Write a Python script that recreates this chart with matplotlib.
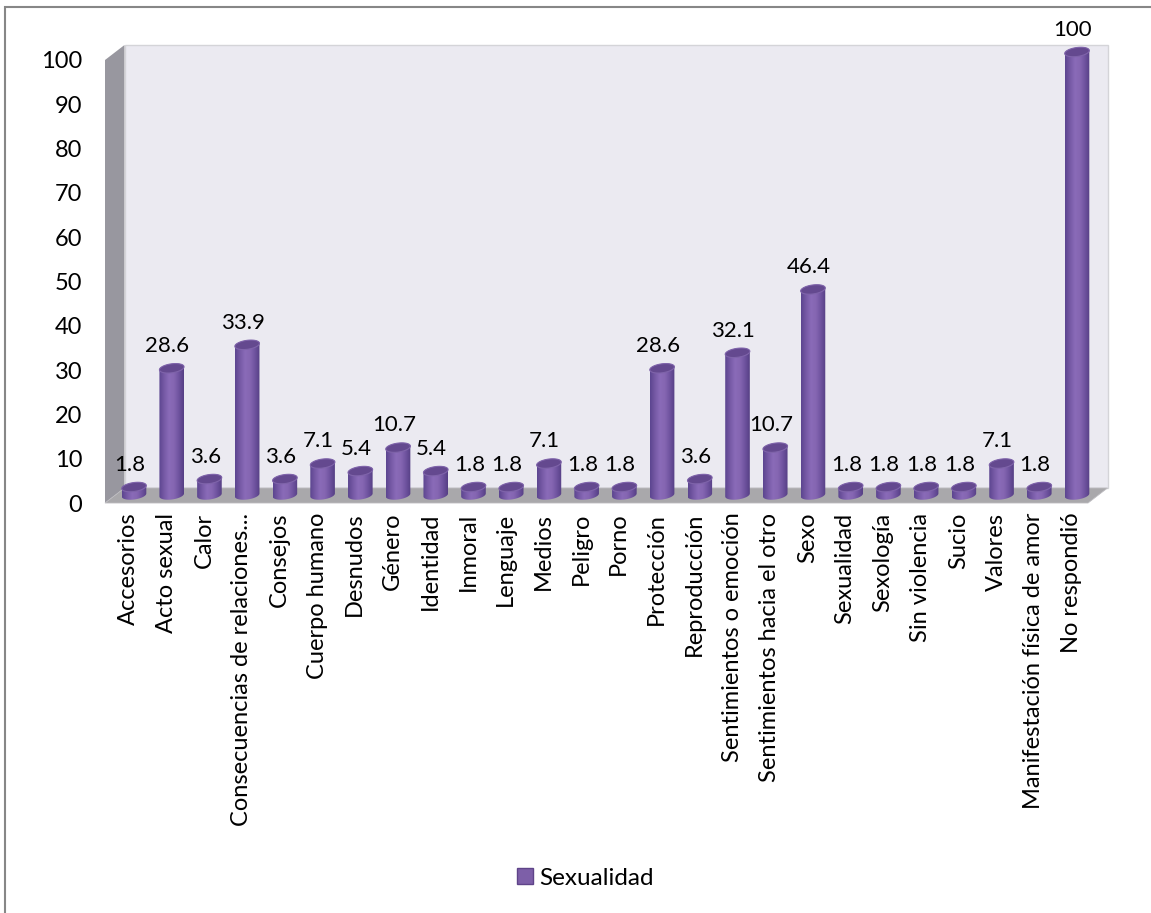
import matplotlib
matplotlib.use('Agg')
import matplotlib.pyplot as plt
import numpy as np
from matplotlib.colors import LinearSegmentedColormap
from matplotlib.lines import Line2D
from matplotlib.patches import Patch, Polygon, Rectangle
from matplotlib.transforms import ScaledTranslation

categorias = ['Accesorios', 'Acto sexual', 'Calor', 'Consecuencias de relaciones...', 'Consejos',
              'Cuerpo humano', 'Desnudos', 'Género', 'Identidad', 'Inmoral', 'Lenguaje', 'Medios',
              'Peligro', 'Porno', 'Protección', 'Reproducción', 'Sentimientos o emoción',
              'Sentimientos hacia el otro', 'Sexo', 'Sexualidad', 'Sexología', 'Sin violencia',
              'Sucio', 'Valores', 'Manifestación física de amor', 'No respondió']
valores = [1.8, 28.6, 3.6, 33.9, 3.6, 7.1, 5.4, 10.7, 5.4, 1.8, 1.8, 7.1, 1.8, 1.8, 28.6, 3.6,
           32.1, 10.7, 46.4, 1.8, 1.8, 1.8, 1.8, 7.1, 1.8, 100]
ticks_y = list(range(0, 101, 10))

W, H = 1151, 913
PX_X0, PX_DX = 134, 37.72   # centro de la primera barra y paso entre categorias
PX_Y0, PX_Y100 = 503, 60
ESCALA = (PX_Y0 - PX_Y100) / 100

plt.rcParams['font.family'] = ['Lato', 'DejaVu Sans']
fig = plt.figure(figsize=(W / 100, H / 100), dpi=100)
fig.patch.set_facecolor('white')
# el marco solo se ve arriba y a la izquierda
fig.add_artist(Line2D([5 / W, 5 / W, 1], [0, 1 - 7.5 / H, 1 - 7.5 / H], transform=fig.transFigure,
                      color='#878787', lw=1.5, solid_joinstyle='miter'))

ax = fig.add_axes([105 / W, 1 - PX_Y0 / H, (1088 - 105) / W, (PX_Y0 - PX_Y100) / H])
xmin, xmax = (105 - PX_X0) / PX_DX, (1088 - PX_X0) / PX_DX
fondo_x, fondo_y = 19.5 / PX_DX, 15 / ESCALA

# paredes y piso
ax.add_patch(Polygon([(xmin, 0), (xmin + fondo_x, fondo_y), (xmin + fondo_x, 100 + fondo_y), (xmin, 100)],
                     fc='#98979f', ec='none', clip_on=False, zorder=1))
ax.add_patch(Rectangle((xmin + fondo_x, fondo_y), xmax - xmin, 100,
                       fc='#ebeaf1', ec='#d4d4d8', lw=1, clip_on=False, zorder=1))
ax.add_patch(Polygon([(xmin, 0), (xmin + fondo_x, fondo_y), (xmax + fondo_x, fondo_y), (xmax, 0)],
                     fc='#a9a8ab', ec='#bdbcc0', lw=0.6, clip_on=False, zorder=2))

cmap = LinearSegmentedColormap.from_list('cil', ['#5c4590', '#7659a5', '#8a6bb8', '#8566b2', '#6f539f', '#563f85'])
grad = np.linspace(0, 1, 64).reshape(1, -1)
t = np.linspace(0, 2 * np.pi, 80)
ancho = 12.3 / PX_DX
alto = 4.5 / ESCALA
incl = 1.5 / ESCALA
base = 8 / ESCALA


def elipse(cx, cy, tt):
    return np.column_stack([cx + ancho * np.cos(tt), cy + alto * np.sin(tt) + incl * np.cos(tt)])


for i, v in enumerate(valores):
    y0, y1 = base, base + v
    abajo = elipse(i, y0, np.linspace(np.pi, 2 * np.pi, 40))
    arriba = elipse(i, y1, np.linspace(0, np.pi, 40))
    cuerpo = Polygon(np.vstack([abajo, arriba]), fc='none', ec='none', clip_on=False)
    ax.add_patch(cuerpo)
    im = ax.imshow(grad, cmap=cmap, extent=[i - ancho, i + ancho, y0 - alto * 1.5, y1 + alto * 1.5],
                   aspect='auto', zorder=3, interpolation='bilinear')
    im.set_clip_box(fig.bbox)
    im.set_clip_path(cuerpo)
    ax.add_patch(Polygon(elipse(i, y1, t), fc='#64498f', ec='#7f64aa', lw=0.8, zorder=4, clip_on=False))
    etiqueta = '100' if v == 100 else str(v)
    ax.annotate(etiqueta, (i, y1), xytext=(-3, 16), textcoords='offset points', ha='center', va='center',
                fontsize=16, color='black', zorder=5, annotation_clip=False)

ax.set_xlim(xmin, xmax)
ax.set_ylim(0, 100)
ax.set_xticks(range(len(categorias)), categorias, rotation=90, ha='center', va='top', fontsize=17)
ax.set_yticks(ticks_y, [str(n) for n in ticks_y], fontsize=17)
ax.tick_params(length=0, labelcolor='black')
ax.tick_params(axis='x', pad=7)
ax.tick_params(axis='y', pad=16.5)
desplazar = ScaledTranslation(-5.5 / 100, 0, fig.dpi_scale_trans)
for lab in ax.get_xticklabels():
    lab.set_transform(lab.get_transform() + desplazar)
for s in ax.spines.values():
    s.set_visible(False)
ax.patch.set_visible(False)

fig.legend(handles=[Patch(fc='#7d5fa8', ec='#5f4489', label='Sexualidad')], loc='center',
           bbox_to_anchor=(585 / W, 1 - 878 / H), frameon=False, fontsize=17.5,
           handlelength=0.66, handleheight=0.66, handletextpad=0.25)

fig.savefig('out.png', dpi=100)
